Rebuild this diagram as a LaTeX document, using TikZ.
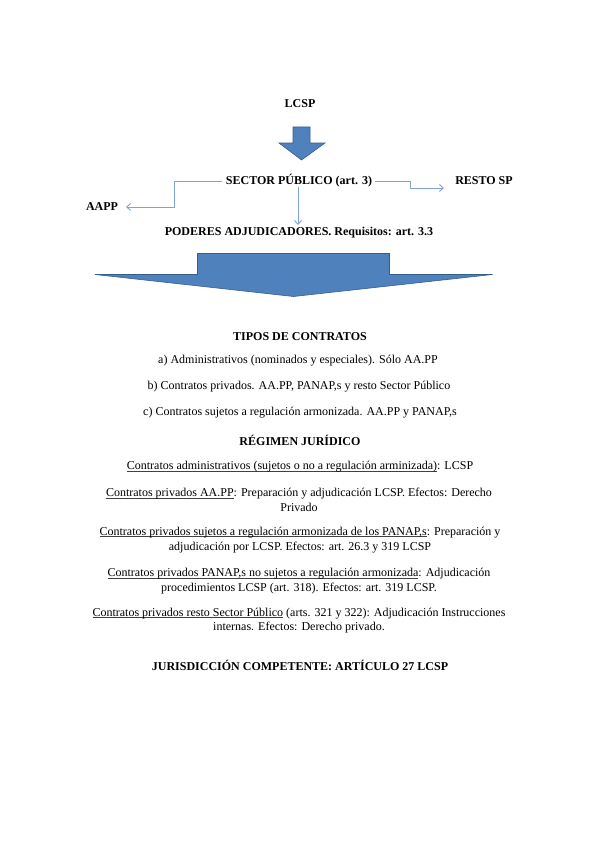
\documentclass[tikz,border=0pt]{standalone}
\usepackage{fontspec}
\setmainfont{Liberation Serif}
\usetikzlibrary{arrows.meta}
\definecolor{arrowfill}{HTML}{4F81BD}
\definecolor{arrowline}{HTML}{385D8A}
\definecolor{connblue}{HTML}{7EA3D8}
\definecolor{ulgray}{HTML}{404040}
\newcommand\ulin[1]{{\setbox0\hbox{#1}\rlap{\color{ulgray}\rule[-1.4pt]{\wd0}{0.55pt}}\box0}}
\tikzset{
  txt/.style={inner sep=0pt, align=center, font=\fontsize{12}{14.5}\selectfont},
  head/.style={txt, font=\fontsize{12}{14.5}\selectfont\bfseries},
  bigarrow/.style={fill=arrowfill, draw=arrowline, line width=0.6pt, line join=miter},
  conn/.style={draw=connblue, line width=0.9pt, -{Straight Barb[length=4pt,width=7pt]}}
}
\begin{document}
\begin{tikzpicture}[x=1pt,y=-1pt]
\useasboundingbox[fill=white] (0,0) rectangle (599,848);

\node[head] (lcsp) at (300,104) {LCSP};
\draw[bigarrow] (293,127) -- (310,127) -- (310,143) -- (325,143) -- (301.5,160) -- (279,143) -- (293,143) -- cycle;

\node[head] (sector) at (299,181) {SECTOR PÚBLICO (art. 3)};
\node[head] (resto) at (484,181) {RESTO SP};
\node[head] (aapp) at (102,207) {AAPP};
\node[head] (poderes) at (299,233) {PODERES ADJUDICADORES. Requisitos: art. 3.3};

\coordinate (lcorner) at (174,181);
\coordinate (lend) at (126,207);
\draw[conn] ([xshift=-4pt]sector.west) -- (lcorner) |- (lend);

\coordinate (rcorner) at (410,181);
\coordinate (rend) at (444,188);
\draw[conn] ([xshift=3pt]sector.east) -- (rcorner) |- (rend);

\coordinate (mtop) at (298,187);
\coordinate (mend) at (298,225);
\draw[conn] (mtop) -- (mend);

\draw[bigarrow] (197.5,253.5) -- (389.5,253.5) -- (389.5,274.5) -- (492.5,274.5) -- (293.5,296.5) -- (95,274.5) -- (197.5,274.5) -- cycle;

\node[head] (tipos) at (300,337) {TIPOS DE CONTRATOS};
\node[txt] (ta) at (298,361) {a) Administrativos (nominados y especiales). Sólo AA.PP};
\node[txt] (tb) at (299,387) {b) Contratos privados. AA.PP, PANAP,s y resto Sector Público};
\node[txt] (tc) at (300,413) {c) Contratos sujetos a regulación armonizada. AA.PP y PANAP,s};

\node[head] (regimen) at (300,440) {RÉGIMEN JURÍDICO};
\node[txt] (p1) at (300,467) {\ulin{Contratos administrativos (sujetos o no a regulación arminizada)}: LCSP};
\node[txt] (p2) at (299,500) {\ulin{Contratos privados AA.PP}: Preparación y adjudicación LCSP. Efectos: Derecho\\Privado};
\node[txt] (p3) at (300,540) {\ulin{Contratos privados sujetos a regulación armonizada de los PANAP,s}: Preparación y\\adjudicación por LCSP. Efectos: art. 26.3 y 319 LCSP};
\node[txt] (p4) at (299,581) {\ulin{Contratos privados PANAP,s no sujetos a regulación armonizada}: Adjudicación\\procedimientos LCSP (art. 318). Efectos: art. 319 LCSP.};
\node[txt] (p5) at (299,620.5) {\ulin{Contratos privados resto Sector Público} (arts. 321 y 322): Adjudicación Instrucciones\\internas. Efectos: Derecho privado.};

\node[head] (juris) at (300,665) {JURISDICCIÓN COMPETENTE: ARTÍCULO 27 LCSP};
\end{tikzpicture}
\end{document}
